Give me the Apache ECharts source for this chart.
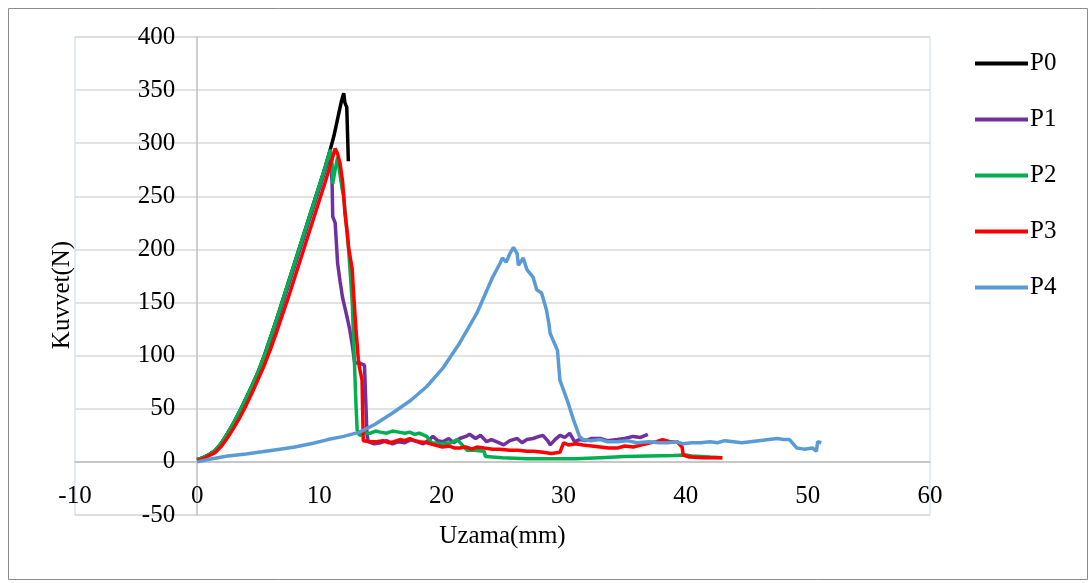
<!DOCTYPE html>
<html style="height: 100%">
<head>
  <meta charset="utf-8">
  <title>Kuvvet - Uzama</title>
</head>
<body style="height: 100%; margin: 0; background: #fff">
<div id="container" style="width: 1092px; height: 583px"></div>
<script type="text/javascript" src="https://cdn.jsdelivr.net/npm/echarts@6/dist/echarts.min.js"></script>
<script type="text/javascript">
  // seri adlari
  let seriesNames = ['P0', 'P1', 'P2', 'P3', 'P4']
  let seriesColors = ['#000000', '#7030A0', '#00B050', '#FF0000', '#5B9BD5']

  // eksen ayarlari
  let xTicks = { min: -10, max: 60, interval: 10 }
  let yTicks = { min: -50, max: 400, interval: 50 }

  // [uzama(mm), kuvvet(N)]
  let p0 = [
    [0, 2], [0.5, 4], [1, 7], [1.5, 11], [2, 18], [2.5, 27], [3, 37], [3.5, 48], [4, 60],
    [4.5, 72], [5, 85], [5.5, 100], [6, 117], [6.5, 134], [7, 152], [7.5, 170], [8, 188],
    [8.5, 206], [9, 224], [9.5, 242], [10, 260], [10.5, 278], [10.9, 294], [11.2, 307],
    [11.5, 323], [11.8, 339], [12.0, 347], [12.1, 338], [12.25, 334], [12.38, 283]
  ]
  let p1 = [
    [0, 2], [0.5, 4], [1, 7], [1.5, 10], [2, 17], [2.5, 25], [3, 35], [3.5, 46], [4, 58],
    [4.5, 70], [5, 83], [5.5, 98], [6, 114], [6.5, 131], [7, 149], [7.5, 167], [8, 185],
    [8.5, 203], [9, 221], [9.5, 239], [10, 257], [10.5, 275], [10.9, 288], [11.0, 272],
    [11.05, 262], [11.1, 231], [11.3, 225], [11.5, 187], [11.7, 170], [11.9, 155],
    [12.1, 145], [12.3, 135], [12.5, 124], [12.7, 110], [12.9, 93], [13.3, 93], [13.7, 91],
    [13.9, 27], [14.0, 19], [14.5, 17], [15, 18], [15.5, 20], [16, 17], [16.5, 19], [17, 18],
    [17.5, 21], [18, 19], [18.5, 17], [19, 21], [19.3, 24], [19.7, 20], [20.1, 19], [20.6, 22],
    [21, 18], [21.5, 22], [22, 24], [22.3, 26], [22.8, 22], [23.2, 25], [23.7, 19], [24.1, 21],
    [24.5, 19], [25.1, 16], [25.6, 20], [26.2, 22], [26.6, 18], [27, 21], [27.5, 22], [28, 24],
    [28.3, 25], [28.7, 20], [28.9, 16], [29.3, 21], [29.7, 25], [30.1, 23], [30.5, 27],
    [30.9, 19], [31.3, 21], [31.8, 20], [32.3, 22], [33, 22], [33.6, 20], [34.4, 21], [35, 22],
    [35.7, 24], [36.3, 23], [36.9, 26]
  ]
  let p2 = [
    [0, 2], [0.5, 4], [1, 7], [1.5, 11], [2, 18], [2.5, 27], [3, 37], [3.5, 48], [4, 60],
    [4.5, 72], [5, 85], [5.5, 100], [6, 117], [6.5, 134], [7, 152], [7.5, 170], [8, 188],
    [8.5, 206], [9, 224], [9.5, 242], [10, 260], [10.5, 278], [10.9, 294], [11.05, 280],
    [11.1, 262], [11.3, 275], [11.5, 287], [11.7, 270], [11.9, 255], [12.0, 250], [12.2, 225],
    [12.4, 200], [12.55, 175], [12.7, 150], [12.8, 118], [12.9, 87], [13.0, 55], [13.1, 30],
    [13.3, 25], [13.8, 27], [14.2, 27], [14.6, 29], [15, 28], [15.5, 27], [16, 29], [16.5, 28],
    [17, 27], [17.4, 28], [17.8, 26], [18.2, 27], [18.6, 25], [18.8, 24], [19.2, 18], [20, 17],
    [20.8, 18], [21.3, 21], [21.7, 16], [22.1, 11], [22.7, 11], [23.5, 10], [23.6, 5], [25, 4],
    [27, 3], [29, 3], [31, 3], [33, 4], [35, 5], [37, 5.5], [39, 6], [40, 6.5], [40.5, 5.5],
    [42, 4.5], [43, 4]
  ]
  let p3 = [
    [0, 1], [0.5, 3], [1, 6], [1.5, 9], [2, 15], [2.5, 23], [3, 32], [3.5, 42], [4, 53],
    [4.5, 65], [5, 78], [5.5, 91], [6, 106], [6.5, 122], [7, 139], [7.5, 156], [8, 174],
    [8.5, 192], [9, 210], [9.5, 228], [10, 246], [10.5, 264], [11, 283], [11.3, 295],
    [11.5, 290], [11.7, 281], [11.9, 265], [12.0, 250], [12.1, 234], [12.3, 215], [12.4, 202],
    [12.6, 188], [12.7, 181], [12.8, 160], [12.9, 143], [13.0, 125], [13.2, 96], [13.3, 88],
    [13.5, 77], [13.6, 20], [14.2, 19], [14.7, 19], [15.2, 20], [15.7, 18], [16.1, 19],
    [16.6, 21], [17, 20], [17.4, 22], [17.8, 20], [18.2, 19], [18.8, 18], [19.4, 16], [20.1, 14],
    [20.6, 15], [21.1, 13], [21.5, 13], [22, 14], [22.5, 12], [22.9, 14], [23.5, 13], [24.2, 12],
    [24.8, 12], [25.6, 11], [26.3, 11], [27, 10], [27.6, 10], [28.3, 9], [29, 8], [29.7, 9],
    [30, 18], [30.4, 16], [31, 17], [31.6, 16], [32.3, 15], [33, 14], [33.7, 13], [34.4, 13],
    [35, 15], [35.7, 14], [36.4, 16], [37.1, 18], [37.6, 19], [38.1, 21], [38.7, 19], [39.3, 19],
    [39.7, 14], [39.8, 6.5], [40.3, 4.5], [41.5, 4], [43, 4]
  ]
  let p4 = [
    [0, 0], [1, 2.5], [2.5, 5.5], [4, 7.5], [5.3, 9.5], [6.5, 11.5], [8, 14], [9.5, 17.5],
    [10.7, 21], [12, 24], [13.3, 28], [14.5, 35], [16, 46], [17.5, 58], [18.8, 71], [20.1, 88],
    [21.5, 112], [22.9, 140], [24.2, 174], [24.8, 187], [25, 192], [25.3, 188], [25.6, 196],
    [25.9, 202], [26.2, 196], [26.3, 185], [26.7, 192], [27.0, 181], [27.5, 174], [27.8, 162],
    [28.2, 159], [28.6, 143], [28.8, 130], [28.9, 121], [29.5, 105], [29.7, 77], [30.3, 58],
    [30.8, 40], [31.3, 24], [31.6, 21], [32.2, 20], [33, 21], [33.6, 19], [34.4, 19],
    [35.2, 20], [36, 18], [37, 19], [37.8, 18], [38.5, 18], [39.2, 19], [39.8, 17], [40.5, 18],
    [41.2, 18], [42, 19], [42.6, 18], [43.2, 20], [43.9, 19], [44.6, 18], [45.3, 19], [46, 20],
    [46.8, 21], [47.5, 22], [48, 21], [48.5, 21], [49.1, 13], [49.7, 12], [50.4, 13],
    [50.7, 10], [50.8, 19], [51.1, 18]
  ]
  let allData = [p0, p1, p2, p3, p4]

  let font = 'Liberation Serif'
  let dom = document.getElementById('container')
  let myChart = echarts.init(dom)

  // izgara boyutlari; eksenler sifir noktasina kaydiriliyor
  let gridLeft = 75, gridRight = 162, gridTop = 37, gridBottom = 68
  let plotW = 1092 - gridLeft - gridRight
  let plotH = 583 - gridTop - gridBottom
  let xZeroOffset = -plotW * (0 - xTicks.min) / (xTicks.max - xTicks.min)
  let yZeroOffset = -plotH * (0 - yTicks.min) / (yTicks.max - yTicks.min)

  let option = {
    backgroundColor: '#fff',
    animation: false,
    textStyle: { fontFamily: font },
    graphic: [{
      type: 'rect',
      left: 6, top: 6,
      shape: { width: 1079, height: 571 },
      style: { fill: 'none', stroke: '#8c8c8c', lineWidth: 1 }
    }],
    grid: {
      left: gridLeft, right: gridRight, top: gridTop, bottom: gridBottom,
      outerBoundsMode: 'none', containLabel: false,
      show: true, borderColor: '#c5d9ee', borderWidth: 1
    },
    legend: {
      orient: 'vertical',
      left: 970, top: 46,
      icon: 'rect',
      itemWidth: 53, itemHeight: 4, itemGap: 31,
      data: seriesNames,
      textStyle: { fontFamily: font, fontSize: 25, color: '#000', padding: [0, 0, 0, -3] }
    },
    xAxis: {
      type: 'value',
      min: xTicks.min, max: xTicks.max, interval: xTicks.interval,
      position: 'bottom', offset: yZeroOffset,
      name: 'Uzama(mm)', nameLocation: 'middle', nameGap: 62,
      nameTextStyle: { fontFamily: font, fontSize: 25, color: '#000' },
      axisLine: { onZero: false, lineStyle: { color: '#bfbfbf', width: 1.5 } },
      axisTick: { show: false },
      axisLabel: { fontFamily: font, fontSize: 25, color: '#000', margin: 22 },
      splitLine: { show: false }
    },
    yAxis: {
      type: 'value',
      min: yTicks.min, max: yTicks.max, interval: yTicks.interval,
      position: 'left', offset: xZeroOffset,
      name: 'Kuvvet(N)', nameLocation: 'middle', nameGap: 122, nameRotate: 90,
      nameTextStyle: { fontFamily: font, fontSize: 25, color: '#000', padding: [0, 38, 0, 0] },
      axisLine: { onZero: false, lineStyle: { color: '#bfbfbf', width: 1.5 } },
      axisTick: { show: false },
      axisLabel: { fontFamily: font, fontSize: 25, color: '#000', margin: 22 },
      splitLine: { lineStyle: { color: '#d9d9d9', width: 1.5 } }
    },
    series: seriesNames.map((name, i) => ({
      name: name,
      type: 'line',
      data: allData[i],
      symbol: 'none',
      color: seriesColors[i],
      lineStyle: { width: 3.5, color: seriesColors[i] }
    }))
  }

  myChart.setOption(option, true)
</script>
</body>
</html>
